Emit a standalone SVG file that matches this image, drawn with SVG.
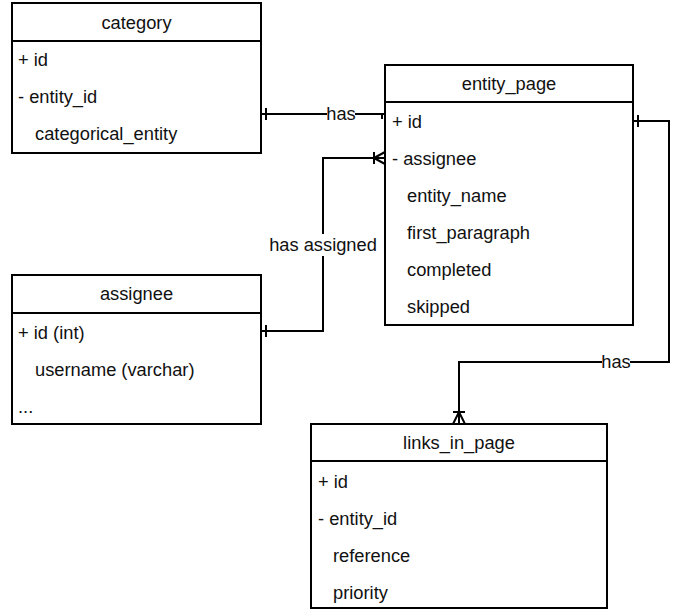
<svg xmlns="http://www.w3.org/2000/svg" width="673" height="613" viewBox="0 0 673 613">
<style>
.box{fill:#fff;stroke:#000;stroke-width:2}
.sep{stroke:#000;stroke-width:2}
text{font-family:"Liberation Sans",Arial,Helvetica,sans-serif;font-size:18.3px;fill:#111}
.h{text-anchor:middle}
.c{fill:none;stroke:#000;stroke-width:2}
.lbl{text-anchor:middle}
</style>
<rect width="673" height="613" fill="#fff"/>
<g id="category">
<rect class="box" x="12" y="3" width="249" height="150"/>
<line class="sep" x1="12" y1="41" x2="261" y2="41"/>
<text class="h" x="136.5" y="29">category</text>
<text x="18" y="66">+ id</text>
<text x="18" y="103">- entity_id</text>
<text x="35" y="140">categorical_entity</text>
</g>
<g id="entity_page">
<rect class="box" x="385" y="65" width="248" height="260"/>
<line class="sep" x1="385" y1="102" x2="633" y2="102"/>
<text class="h" x="509" y="90">entity_page</text>
<text x="392" y="128">+ id</text>
<text x="392" y="165">- assignee</text>
<text x="407" y="202">entity_name</text>
<text x="407" y="239">first_paragraph</text>
<text x="407" y="276">completed</text>
<text x="407" y="313">skipped</text>
</g>
<g id="assignee">
<rect class="box" x="12" y="275" width="249" height="149"/>
<line class="sep" x1="12" y1="313" x2="261" y2="313"/>
<text class="h" x="136.5" y="300">assignee</text>
<text x="18" y="339">+ id (int)</text>
<text x="35" y="376">username (varchar)</text>
<text x="18" y="413">...</text>
</g>
<g id="links_in_page">
<rect class="box" x="311" y="424" width="296" height="184"/>
<line class="sep" x1="311" y1="461" x2="607" y2="461"/>
<text class="h" x="459" y="449">links_in_page</text>
<text x="318" y="488">+ id</text>
<text x="318" y="525">- entity_id</text>
<text x="333" y="562">reference</text>
<text x="333" y="599">priority</text>
</g>
<g id="connectors">
<path class="c" d="M261 114 H385"/>
<path class="c" d="M266 108 V120"/>
<path class="c" d="M382 114 V119"/>
<rect x="327" y="104" width="28" height="20" fill="#fff"/>
<text class="lbl" x="341" y="120">has</text>

<path class="c" d="M261 331 H323 V158 H385"/>
<path class="c" d="M266 325 V337"/>
<path class="c" d="M374 152 V164 M374 158 L385 152 M374 158 L385 164"/>
<rect x="269" y="234" width="108" height="22" fill="#fff"/>
<text class="lbl" x="323" y="251">has assigned</text>

<path class="c" d="M633 121 H669 V362 H459 V424"/>
<path class="c" d="M638 115 V127"/>
<path class="c" d="M453 412 H465 M459 412 L453 424 M459 412 L465 424"/>
<rect x="602" y="352" width="28" height="20" fill="#fff"/>
<text class="lbl" x="616" y="368">has</text>
</g>
</svg>
